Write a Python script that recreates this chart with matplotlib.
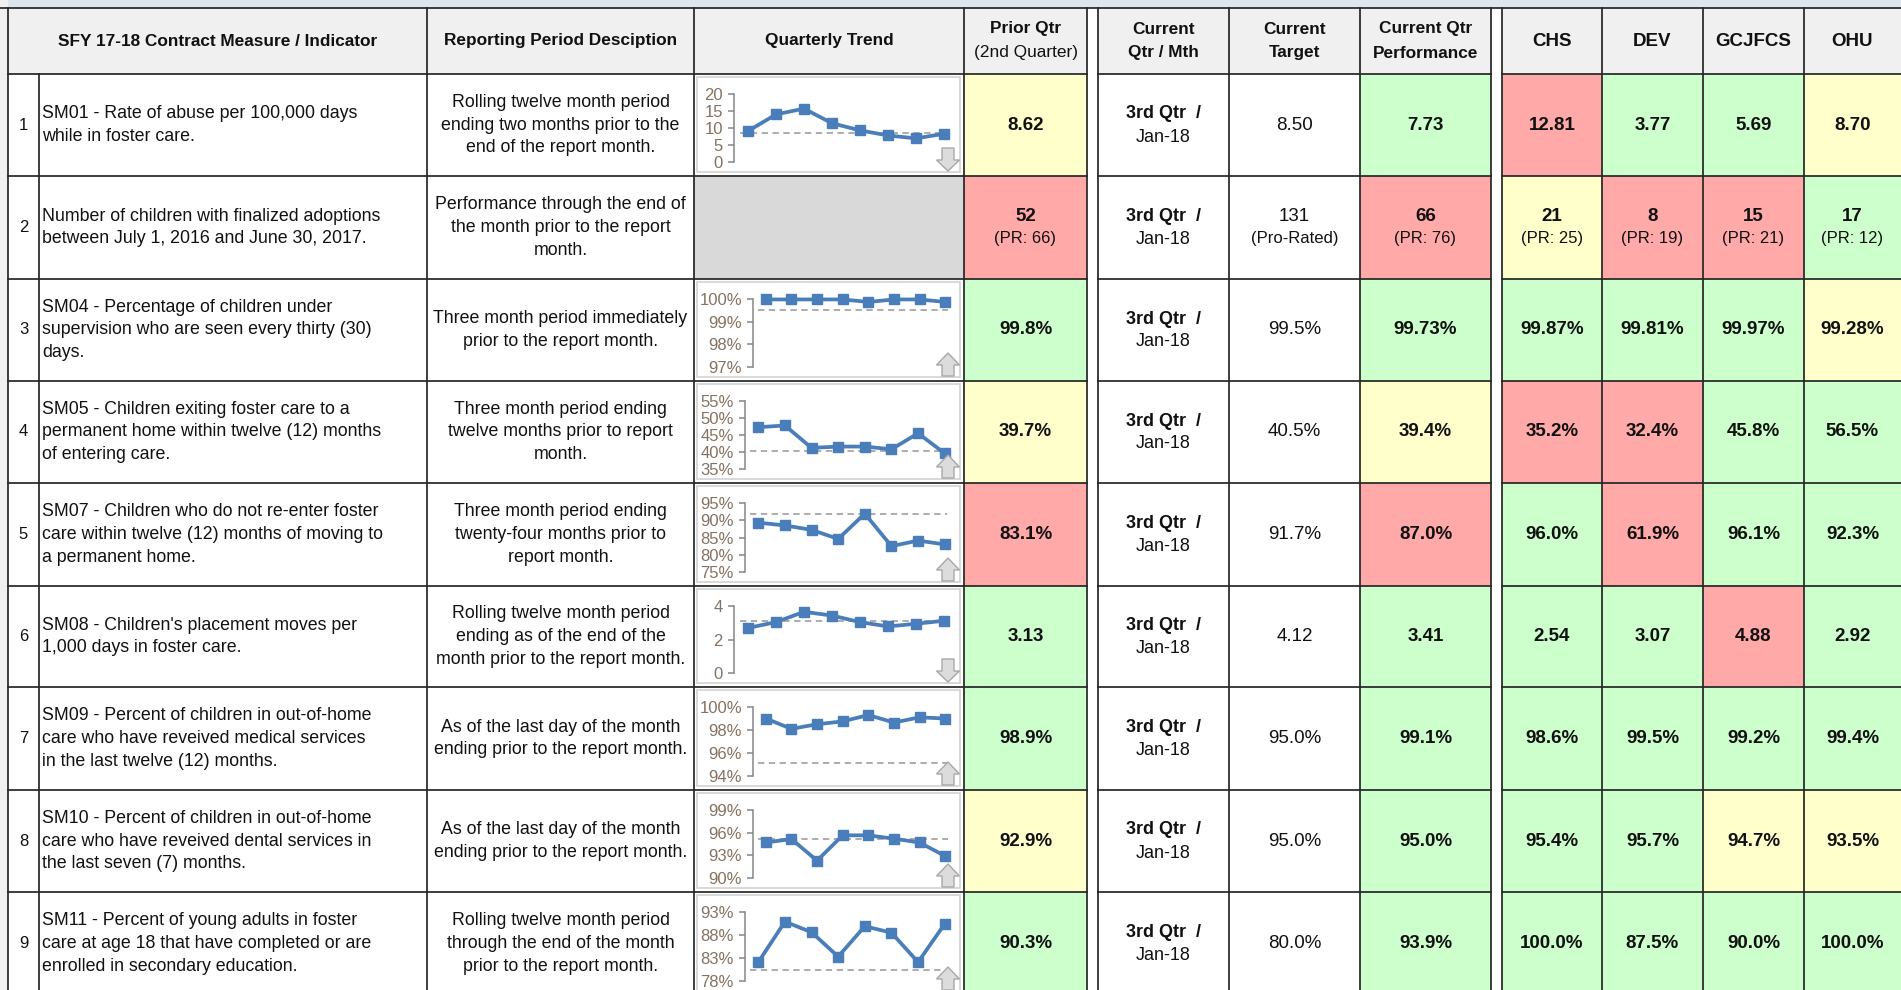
import matplotlib.pyplot as plt
from matplotlib.patches import Rectangle, Polygon

plt.rcParams['font.family'] = ['Liberation Sans', 'DejaVu Sans']

# ---------------- data ----------------
row_ids = [1, 2, 3, 4, 5, 6, 7, 8, 9]

indicators = [
    "SM01 - Rate of abuse per 100,000 days\nwhile in foster care.",
    "Number of children with finalized adoptions\nbetween July 1, 2016 and June 30, 2017.",
    "SM04 - Percentage of children under\nsupervision who are seen every thirty (30)\ndays.",
    "SM05 - Children exiting foster care to a\npermanent home within twelve (12) months\nof entering care.",
    "SM07 - Children who do not re-enter foster\ncare within twelve (12) months of moving to\na permanent home.",
    "SM08 - Children's placement moves per\n1,000 days in foster care.",
    "SM09 - Percent of children in out-of-home\ncare who have reveived medical services\nin the last twelve (12) months.",
    "SM10 - Percent of children in out-of-home\ncare who have reveived dental services in\nthe last seven (7) months.",
    "SM11 - Percent of young adults in foster\ncare at age 18 that have completed or are\nenrolled in secondary education.",
]

periods = [
    "Rolling twelve month period\nending two months prior to the\nend of the report month.",
    "Performance through the end of\nthe month prior to the report\nmonth.",
    "Three month period immediately\nprior to the report month.",
    "Three month period ending\ntwelve months prior to report\nmonth.",
    "Three month period ending\ntwenty-four months prior to\nreport month.",
    "Rolling twelve month period\nending as of the end of the\nmonth prior to the report month.",
    "As of the last day of the month\nending prior to the report month.",
    "As of the last day of the month\nending prior to the report month.",
    "Rolling twelve month period\nthrough the end of the month\nprior to the report month.",
]

headers = ["SFY 17-18 Contract Measure / Indicator", "Reporting Period Desciption", "Quarterly Trend"]
prior_hdr = ("Prior Qtr", "(2nd Quarter)")
cur_hdrs = [("Current", "Qtr / Mth"), ("Current", "Target"), ("Current Qtr", "Performance")]
agencies = ["CHS", "DEV", "GCJFCS", "OHU"]

prior_main = ["8.62", "52", "99.8%", "39.7%", "83.1%", "3.13", "98.9%", "92.9%", "90.3%"]
prior_sub = ["", "(PR: 66)", "", "", "", "", "", "", ""]
prior_status = ["Y", "R", "G", "Y", "R", "G", "G", "Y", "G"]

cur_qtr = "3rd Qtr  /"
cur_mth = "Jan-18"

target_main = ["8.50", "131", "99.5%", "40.5%", "91.7%", "4.12", "95.0%", "95.0%", "80.0%"]
target_sub = ["", "(Pro-Rated)", "", "", "", "", "", "", ""]

perf_main = ["7.73", "66", "99.73%", "39.4%", "87.0%", "3.41", "99.1%", "95.0%", "93.9%"]
perf_sub = ["", "(PR: 76)", "", "", "", "", "", "", ""]
perf_status = ["G", "R", "G", "Y", "R", "G", "G", "G", "G"]

chs_main = ["12.81", "21", "99.87%", "35.2%", "96.0%", "2.54", "98.6%", "95.4%", "100.0%"]
chs_sub = ["", "(PR: 25)", "", "", "", "", "", "", ""]
chs_status = ["R", "Y", "G", "R", "G", "G", "G", "G", "G"]

dev_main = ["3.77", "8", "99.81%", "32.4%", "61.9%", "3.07", "99.5%", "95.7%", "87.5%"]
dev_sub = ["", "(PR: 19)", "", "", "", "", "", "", ""]
dev_status = ["G", "R", "G", "R", "R", "G", "G", "G", "G"]

gcj_main = ["5.69", "15", "99.97%", "45.8%", "96.1%", "4.88", "99.2%", "94.7%", "90.0%"]
gcj_sub = ["", "(PR: 21)", "", "", "", "", "", "", ""]
gcj_status = ["G", "R", "G", "G", "G", "R", "G", "Y", "G"]

ohu_main = ["8.70", "17", "99.28%", "56.5%", "92.3%", "2.92", "99.4%", "93.5%", "100.0%"]
ohu_sub = ["", "(PR: 12)", "", "", "", "", "", "", ""]
ohu_status = ["Y", "G", "Y", "G", "G", "G", "G", "Y", "G"]

# quarterly trend sparklines (8 points each, row 2 has none)
trend_r1 = [9.1, 14.0, 15.7, 11.4, 9.3, 7.8, 6.95, 8.3]
trend_r3 = [99.98, 99.98, 99.98, 99.98, 99.87, 99.98, 99.98, 99.87]
trend_r4 = [47.3, 47.8, 41.2, 41.6, 41.6, 40.8, 45.5, 39.6]
trend_r5 = [89.3, 88.5, 87.2, 84.6, 91.9, 82.5, 84.1, 83.0]
trend_r6 = [2.69, 3.04, 3.65, 3.43, 3.04, 2.78, 2.94, 3.12]
trend_r7 = [99.0, 98.1, 98.5, 98.75, 99.3, 98.65, 99.1, 99.0]
trend_r8 = [94.7, 95.15, 92.3, 95.65, 95.65, 95.2, 94.7, 92.9]
trend_r9 = [82.1, 90.9, 88.6, 83.3, 89.9, 88.5, 82.1, 90.4]
trends = [trend_r1, None, trend_r3, trend_r4, trend_r5, trend_r6, trend_r7, trend_r8, trend_r9]
trend_target = [8.4, None, 99.52, 40.4, 91.8, 3.13, 95.1, 95.2, 80.4]
trend_ticks = [[0, 5, 10, 15, 20], None, [97, 98, 99, 100], [35, 40, 45, 50, 55],
               [75, 80, 85, 90, 95], [0, 2, 4], [94, 96, 98, 100], [90, 93, 96, 99], [78, 83, 88, 93]]
trend_pct = [False, None, True, True, True, False, True, True, True]
trend_arrow = ["down", None, "up", "up", "up", "down", "up", "up", "up"]

# ---------------- layout ----------------
W, H = 1901, 990
col_x = [8, 39, 427, 694, 964, 1087, 1098, 1229, 1360, 1491, 1502, 1602, 1703, 1804, 1901]
row_y = [8, 74, 176, 279, 381, 483, 586, 687, 790, 892, 995]
spark_left = [734, None, 753, 745, 745, 734, 753, 753, 745]
fills = {"G": "#ccffcc", "Y": "#ffffcc", "R": "#ffa9a9"}
LINE = "#262626"
TXT = "#111111"
FS = 12.8
VFS = 13.5
LSP = 1.46

fig = plt.figure(figsize=(W / 100, H / 100), dpi=100)
bg = fig.add_axes([0, 0, 1, 1])
bg.set_xlim(0, W)
bg.set_ylim(H, 0)
bg.axis('off')

bg.add_patch(Rectangle((0, 0), W, 8, color="#dde6ef", lw=0))
bg.add_patch(Rectangle((0, 8), W, row_y[1] - 8, color="#f0f0f0", lw=0))
bg.add_patch(Rectangle((0, 0), 8, H, color="#f0f0f0", lw=0))


def cell(c0, c1, r, status=None):
    fc = fills[status] if status else "white"
    bg.add_patch(Rectangle((col_x[c0], row_y[r]), col_x[c1] - col_x[c0], row_y[r + 1] - row_y[r],
                           facecolor=fc, lw=0))


def value(cx, cy, main, sub, bold=True):
    wt = 'bold' if bold else 'normal'
    if sub:
        bg.text(cx, cy - 11, main, ha='center', va='center', fontsize=VFS, fontweight=wt, color=TXT)
        bg.text(cx, cy + 11, sub, ha='center', va='center', fontsize=12, color=TXT)
    else:
        bg.text(cx, cy, main, ha='center', va='center', fontsize=VFS, fontweight=wt, color=TXT)


agency_cols = [(chs_main, chs_sub, chs_status), (dev_main, dev_sub, dev_status),
               (gcj_main, gcj_sub, gcj_status), (ohu_main, ohu_sub, ohu_status)]

for i in range(9):
    r = i + 1
    y0, y1 = row_y[r], row_y[r + 1]
    cy = (y0 + y1) / 2
    # backgrounds
    cell(0, 4, r)
    cell(4, 5, r, prior_status[i])
    cell(6, 8, r)
    cell(8, 9, r, perf_status[i])
    for k, (_, _, st) in enumerate(agency_cols):
        cell(10 + k, 11 + k, r, st[i])
    if trends[i] is None:
        bg.add_patch(Rectangle((col_x[3], y0), col_x[4] - col_x[3], y1 - y0, facecolor="#d9d9d9", lw=0))
    else:
        bg.add_patch(Rectangle((col_x[3] + 3, y0 + 3), col_x[4] - col_x[3] - 7, y1 - y0 - 7,
                               facecolor="white", edgecolor="#d2d2d2", lw=1.2))
    # texts
    bg.text((col_x[0] + col_x[1]) / 2, cy, str(row_ids[i]), ha='center', va='center', fontsize=12, color=TXT)
    bg.text(col_x[1] + 3, cy, indicators[i], ha='left', va='center', fontsize=FS, color=TXT, linespacing=LSP)
    bg.text((col_x[2] + col_x[3]) / 2, cy, periods[i], ha='center', va='center', fontsize=FS,
            color=TXT, linespacing=LSP, multialignment='center')
    value((col_x[4] + col_x[5]) / 2, cy, prior_main[i], prior_sub[i])
    cxq = (col_x[6] + col_x[7]) / 2
    bg.text(cxq, cy - 11, cur_qtr, ha='center', va='center', fontsize=13, fontweight='bold', color=TXT)
    bg.text(cxq, cy + 12, cur_mth, ha='center', va='center', fontsize=13, color=TXT)
    value((col_x[7] + col_x[8]) / 2, cy, target_main[i], target_sub[i], bold=False)
    value((col_x[8] + col_x[9]) / 2, cy, perf_main[i], perf_sub[i])
    for k, (mn, sb, _) in enumerate(agency_cols):
        value((col_x[10 + k] + col_x[11 + k]) / 2, cy, mn[i], sb[i])

# gaps between column groups
for g0, g1 in [(col_x[5], col_x[6]), (col_x[9], col_x[10])]:
    bg.add_patch(Rectangle((g0, 8), g1 - g0, H, facecolor="white", lw=0))

# header texts
hy = (row_y[0] + row_y[1]) / 2
HFS = 12.4
bg.text((col_x[0] + col_x[2]) / 2, hy, headers[0], ha='center', va='center', fontsize=HFS, fontweight='bold', color=TXT)
bg.text((col_x[2] + col_x[3]) / 2, hy, headers[1], ha='center', va='center', fontsize=HFS, fontweight='bold', color=TXT)
bg.text((col_x[3] + col_x[4]) / 2, hy, headers[2], ha='center', va='center', fontsize=HFS, fontweight='bold', color=TXT)
bg.text((col_x[4] + col_x[5]) / 2, hy - 12, prior_hdr[0], ha='center', va='center', fontsize=HFS, fontweight='bold', color=TXT)
bg.text((col_x[4] + col_x[5]) / 2, hy + 12, prior_hdr[1], ha='center', va='center', fontsize=HFS, color=TXT)
for k, (a, b) in enumerate(cur_hdrs):
    cx = (col_x[6 + k] + col_x[7 + k]) / 2
    bg.text(cx, hy - 12, a, ha='center', va='center', fontsize=HFS, fontweight='bold', color=TXT)
    bg.text(cx, hy + 12, b, ha='center', va='center', fontsize=HFS, fontweight='bold', color=TXT)
for k, a in enumerate(agencies):
    cx = (col_x[10 + k] + col_x[11 + k]) / 2
    bg.text(cx, hy, a, ha='center', va='center', fontsize=13.5, fontweight='bold', color=TXT)

# grid lines
lw = 1.25
bg.plot([0, W], [8, 8], color=LINE, lw=lw)
for y in row_y[1:]:
    for s0, s1 in [(col_x[0], col_x[5]), (col_x[6], col_x[9]), (col_x[10], W)]:
        bg.plot([s0, s1], [y, y], color=LINE, lw=lw)
for j, x in enumerate(col_x[:-1]):
    top = row_y[1] if j == 1 else row_y[0]
    bg.plot([x, x], [top, H], color=LINE, lw=lw)

# sparklines
for i in range(9):
    if trends[i] is None:
        continue
    r = i + 1
    y0, y1 = row_y[r], row_y[r + 1]
    top, bot = y0 + 20, y1 - 14
    left, right = spark_left[i], 958
    ax = fig.add_axes([left / W, 1 - bot / H, (right - left) / W, (bot - top) / H])
    ax.patch.set_alpha(0)
    xs = list(range(len(trends[i])))
    ax.plot([-0.3, 7.1], [trend_target[i]] * 2, color="#a6a6a6", lw=1.3, ls=(0, (3.5, 2.5)), clip_on=False)
    ax.plot(xs, trends[i], color="#4a7ebb", lw=2.7, marker='s', ms=7.4, clip_on=False)
    ax.set_xlim(-0.5, 7.5)
    ax.set_ylim(trend_ticks[i][0], trend_ticks[i][-1])
    for s in ['top', 'right', 'bottom']:
        ax.spines[s].set_visible(False)
    ax.spines['left'].set_color("#868686")
    ax.spines['left'].set_linewidth(1.1)
    ax.set_xticks([])
    ax.set_yticks(trend_ticks[i])
    ax.set_yticklabels([f"{t}%" if trend_pct[i] else f"{t}" for t in trend_ticks[i]])
    ax.tick_params(axis='y', length=4.5, width=1.1, color="#868686", labelsize=12,
                   labelcolor="#857262", pad=3.5)

# trend arrows on top
ov = fig.add_axes([0, 0, 1, 1])
ov.set_xlim(0, W)
ov.set_ylim(H, 0)
ov.axis('off')
ov.patch.set_alpha(0)
for i in range(9):
    if trend_arrow[i] is None:
        continue
    by = row_y[i + 2] - 5
    cx = 948
    hw, sw, hh, th = 11.5, 6, 11, 23
    if trend_arrow[i] == "up":
        pts = [(cx - sw, by), (cx + sw, by), (cx + sw, by - hh), (cx + hw, by - hh), (cx, by - th),
               (cx - hw, by - hh), (cx - sw, by - hh)]
    else:
        pts = [(cx - sw, by - th), (cx + sw, by - th), (cx + sw, by - hh), (cx + hw, by - hh), (cx, by),
               (cx - hw, by - hh), (cx - sw, by - hh)]
    ov.add_patch(Polygon(pts, closed=True, facecolor="#dcdcdc", edgecolor="#a8a8a8", lw=1.0))

plt.savefig("out.png", dpi=100)
plt.close()
